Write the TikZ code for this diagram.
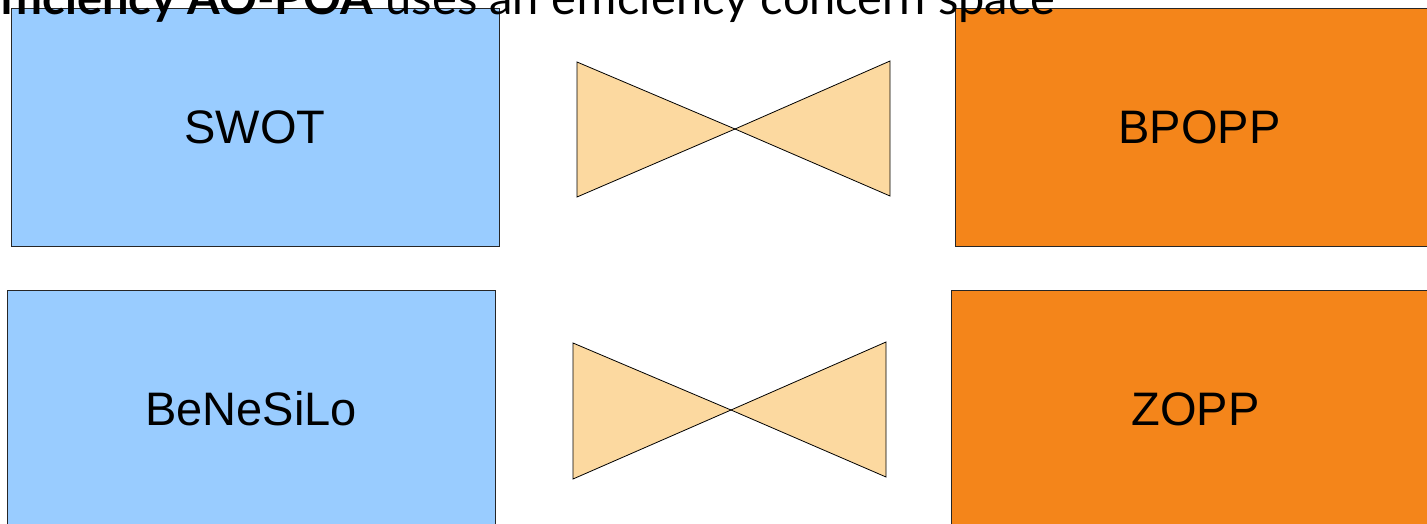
\documentclass[tikz,border=0pt]{standalone}
\usepackage{fontspec}
\setmainfont{Liberation Sans}
\newfontfamily\titlefont{Lato}
\definecolor{boxblue}{HTML}{99CCFF}
\definecolor{boxorange}{HTML}{F4851A}
\definecolor{bowfill}{HTML}{FCD9A0}
\begin{document}
\begin{tikzpicture}[x=1pt,y=-1pt,
  box/.style={draw=black!85,line width=0.8pt,minimum width=488pt,minimum height=238pt,inner sep=0pt,font=\fontsize{47}{56}\selectfont},
  bow/.style={fill=bowfill,draw=black,line width=0.8pt,line join=miter}]
\useasboundingbox (0,0) rectangle (1427,524);
\clip (0,0) rectangle (1427,524);
\node[box,fill=boxblue] (swot) at (255,127) {SWOT};
\node[box,fill=boxorange] (bpopp) at (1199.5,127) {BPOPP};
\node[box,fill=boxblue] (benesilo) at (251,409) {BeNeSiLo};
\node[box,fill=boxorange] (zopp) at (1195.5,409) {ZOPP};
% top bow tie
\coordinate (tc) at (735,129);
\filldraw[bow] (577,62) -- (577,197) -- (tc) -- cycle;
\filldraw[bow] (890,61) -- (890,196) -- (tc) -- cycle;
% bottom bow tie
\coordinate (bc) at (731,410);
\filldraw[bow] (573,343) -- (573,479) -- (bc) -- cycle;
\filldraw[bow] (886,342) -- (886,477) -- (bc) -- cycle;
\node[anchor=base east,inner sep=0pt,font=\titlefont\fontsize{47}{56}\selectfont] (title) at (1055,15) {\textbf{Efficiency AO-POA} uses an efficiency concern space};
\end{tikzpicture}
\end{document}
